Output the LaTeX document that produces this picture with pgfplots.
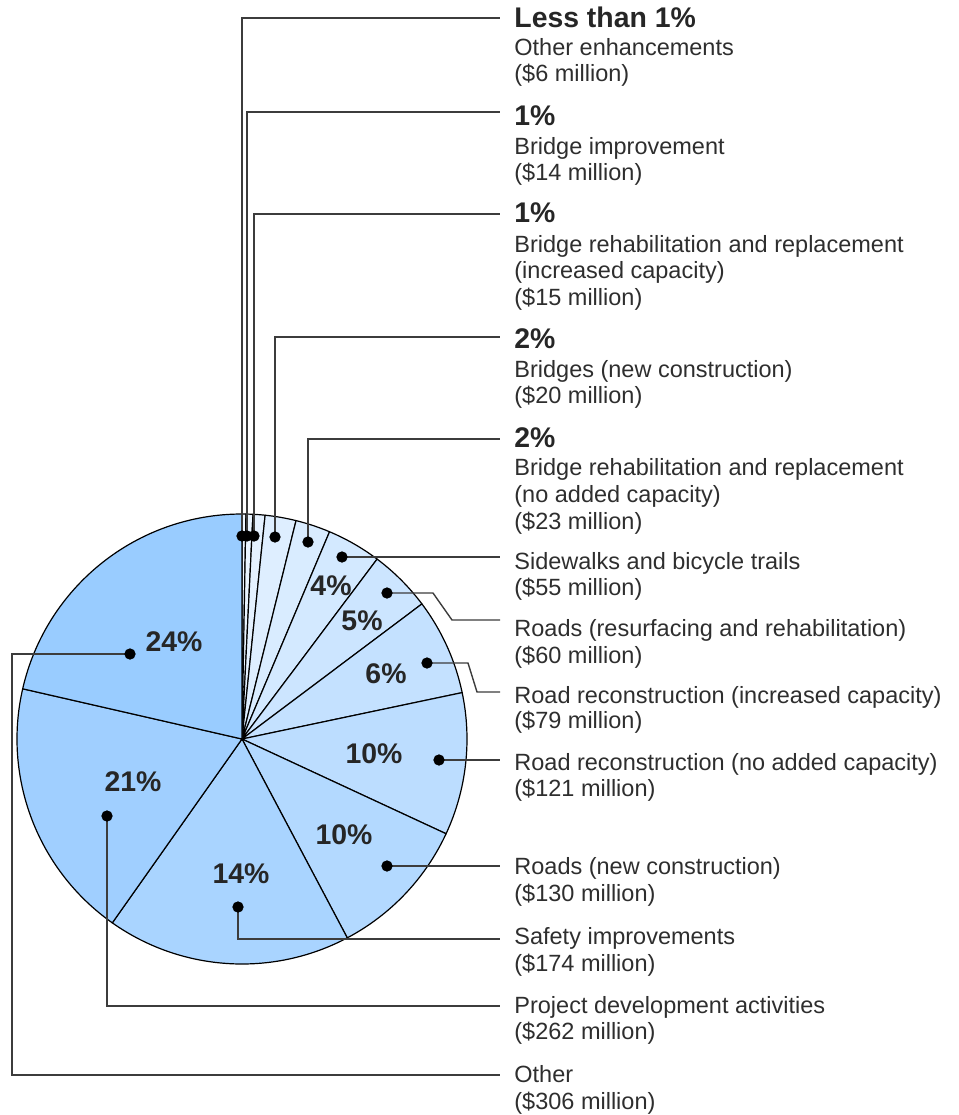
\documentclass[border=0pt]{standalone}
\usepackage{fontspec}
\setmainfont{Liberation Sans}
\usepackage{pgfplots}
\usepackage{pgfplotstable}
\pgfplotsset{compat=1.18}

\definecolor{c1}{HTML}{EEF6FF}
\definecolor{c2}{HTML}{E9F4FF}
\definecolor{c3}{HTML}{E4F1FF}
\definecolor{c4}{HTML}{DEEEFF}
\definecolor{c5}{HTML}{D9ECFF}
\definecolor{c6}{HTML}{D3E9FF}
\definecolor{c7}{HTML}{CCE5FF}
\definecolor{c8}{HTML}{C4E1FF}
\definecolor{c9}{HTML}{BCDDFF}
\definecolor{c10}{HTML}{B3D9FF}
\definecolor{c11}{HTML}{A9D4FF}
\definecolor{c12}{HTML}{A0CFFF}
\definecolor{c13}{HTML}{99CCFF}
\definecolor{txt}{HTML}{2E2E2E}
\definecolor{bld}{HTML}{262626}
\definecolor{lead}{HTML}{3C3C3C}

% amount in $ million; wedge start/end angle (degrees clockwise from top) as drawn
\pgfplotstableread{
amount startdeg enddeg col
6    0.0    1.0   c1
14   1.0    2.8   c2
15   2.8    5.9   c3
20   5.9    13.9  c4
23   13.9   22.9  c5
55   22.9   36.9  c6
60   36.9   53.1  c7
79   53.1   78.1  c8
121  78.1   114.9 c9
130  114.9  152.1 c10
174  152.1  215.2 c11
262  215.2  282.9 c12
306  282.9  360.0 c13
}\piedata

\begin{document}
\begin{tikzpicture}
\begin{axis}[
  scale only axis, width=479.5pt, height=557.5pt,
  xmin=0, xmax=959, ymin=0, ymax=1115, y dir=reverse,
  hide axis, clip=false,
]
\path[draw=none] (rel axis cs:0,0) rectangle (rel axis cs:1,1);

\pgfplotsforeachungrouped \i in {0,...,12} {
  \pgfplotstablegetelem{\i}{startdeg}\of\piedata \let\sa\pgfplotsretval
  \pgfplotstablegetelem{\i}{enddeg}\of\piedata \let\sb\pgfplotsretval
  \pgfplotstablegetelem{\i}{col}\of\piedata \let\sc\pgfplotsretval
  \edef\temp{\noexpand\path[fill=\sc, draw=black, line width=0.6pt, line join=round]
    (axis cs:242,739) -- ++({90-\sa}:112.5pt)
    arc[start angle={90-\sa}, end angle={90-\sb}, radius=112.5pt] -- cycle;}
  \temp
}

% leader lines
\addplot[lead, line width=0.7pt, no markers, sharp plot] coordinates {(242,536) (242,18) (500,18)};
\addplot[lead, line width=0.7pt, no markers, sharp plot] coordinates {(247,536) (247,112) (500,112)};
\addplot[lead, line width=0.7pt, no markers, sharp plot] coordinates {(254,536) (254,214) (500,214)};
\addplot[lead, line width=0.7pt, no markers, sharp plot] coordinates {(275,537) (275,337) (500,337)};
\addplot[lead, line width=0.7pt, no markers, sharp plot] coordinates {(308,542) (308,439) (500,439)};
\addplot[lead, line width=0.7pt, no markers, sharp plot] coordinates {(342,557) (500,557)};
\addplot[lead, line width=0.7pt, no markers, sharp plot] coordinates {(387,593) (433,593) (452,620) (500,620)};
\addplot[lead, line width=0.7pt, no markers, sharp plot] coordinates {(427,663) (468,663) (477,692) (500,692)};
\addplot[lead, line width=0.7pt, no markers, sharp plot] coordinates {(439,760) (500,760)};
\addplot[lead, line width=0.7pt, no markers, sharp plot] coordinates {(387,866) (500,866)};
\addplot[lead, line width=0.7pt, no markers, sharp plot] coordinates {(238,907) (238,939) (500,939)};
\addplot[lead, line width=0.7pt, no markers, sharp plot] coordinates {(107,816) (107,1006) (500,1006)};
\addplot[lead, line width=0.7pt, no markers, sharp plot] coordinates {(130,654) (12,654) (12,1075) (500,1075)};

% leader dots
\addplot[only marks, mark=*, mark size=2.6pt, black] coordinates {
(242,536) (247,536) (254,536) (275,537) (308,542) (342,557) (387,593)
(427,663) (439,760) (387,866) (238,907) (107,816) (130,654)};

% percentages inside the pie
\tikzset{pct/.style={anchor=center, inner sep=0, font=\fontsize{14.2}{16}\selectfont\bfseries, text=bld}}
\node[pct] at (axis cs:331,586) {4\%};
\node[pct] at (axis cs:362,621) {5\%};
\node[pct] at (axis cs:386,674) {6\%};
\node[pct] at (axis cs:374,754) {10\%};
\node[pct] at (axis cs:344,835) {10\%};
\node[pct] at (axis cs:241,874) {14\%};
\node[pct] at (axis cs:133,782) {21\%};
\node[pct] at (axis cs:174,642) {24\%};

% right-hand labels
\tikzset{lb/.style={anchor=mid west, inner sep=0, font=\fontsize{11.75}{13}\selectfont, text=txt},
         hd/.style={anchor=mid west, inner sep=0, font=\fontsize{14.2}{16}\selectfont\bfseries, text=bld}}
\node[hd] at (axis cs:514,22) {Less than 1\%};
\node[lb] at (axis cs:514,50) {Other enhancements};
\node[lb] at (axis cs:514,76) {(\$6 million)};

\node[hd] at (axis cs:514,120) {1\%};
\node[lb] at (axis cs:514,149) {Bridge improvement};
\node[lb] at (axis cs:514,175) {(\$14 million)};

\node[hd] at (axis cs:514,217) {1\%};
\node[lb] at (axis cs:514,247) {Bridge rehabilitation and replacement};
\node[lb] at (axis cs:514,273) {(increased capacity)};
\node[lb] at (axis cs:514,300) {(\$15 million)};

\node[hd] at (axis cs:514,343) {2\%};
\node[lb] at (axis cs:514,372) {Bridges (new construction)};
\node[lb] at (axis cs:514,398) {(\$20 million)};

\node[hd] at (axis cs:514,442) {2\%};
\node[lb] at (axis cs:514,470) {Bridge rehabilitation and replacement};
\node[lb] at (axis cs:514,497) {(no added capacity)};
\node[lb] at (axis cs:514,524) {(\$23 million)};

\node[lb] at (axis cs:514,564) {Sidewalks and bicycle trails};
\node[lb] at (axis cs:514,590) {(\$55 million)};

\node[lb] at (axis cs:514,631) {Roads (resurfacing and rehabilitation)};
\node[lb] at (axis cs:514,658) {(\$60 million)};

\node[lb] at (axis cs:514,698) {Road reconstruction (increased capacity)};
\node[lb] at (axis cs:514,723) {(\$79 million)};

\node[lb] at (axis cs:514,765) {Road reconstruction (no added capacity)};
\node[lb] at (axis cs:514,791) {(\$121 million)};

\node[lb] at (axis cs:514,869) {Roads (new construction)};
\node[lb] at (axis cs:514,896) {(\$130 million)};

\node[lb] at (axis cs:514,939) {Safety improvements};
\node[lb] at (axis cs:514,966) {(\$174 million)};

\node[lb] at (axis cs:514,1008) {Project development activities};
\node[lb] at (axis cs:514,1034) {(\$262 million)};

\node[lb] at (axis cs:514,1077) {Other};
\node[lb] at (axis cs:514,1104) {(\$306 million)};
\end{axis}
\end{tikzpicture}
\end{document}
